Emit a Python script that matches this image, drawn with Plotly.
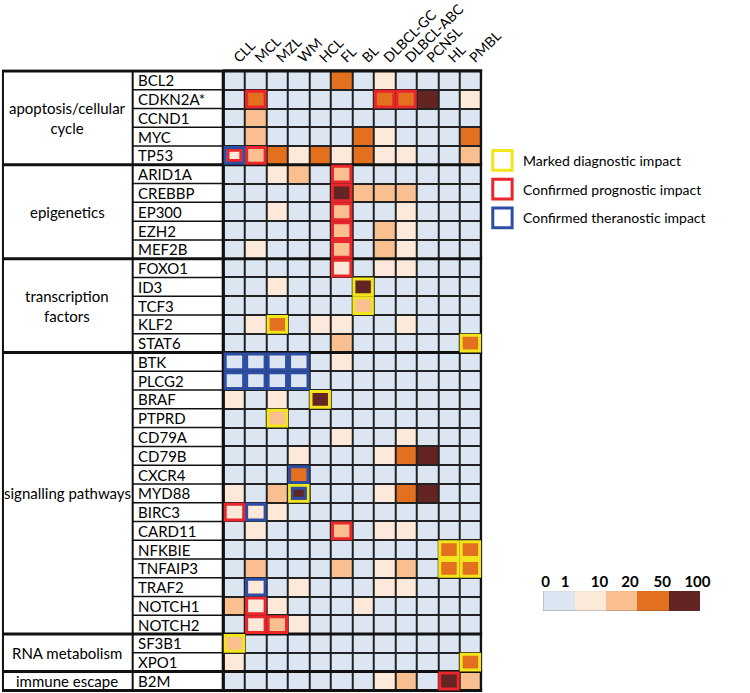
import plotly.graph_objects as go

diseases = ["CLL", "MCL", "MZL", "WM", "HCL", "FL", "BL", "DLBCL-GC",
            "DLBCL-ABC", "PCNSL", "HL", "PMBL"]
genes = ["BCL2", "CDKN2A*", "CCND1", "MYC", "TP53",
         "ARID1A", "CREBBP", "EP300", "EZH2", "MEF2B",
         "FOXO1", "ID3", "TCF3", "KLF2", "STAT6",
         "BTK", "PLCG2", "BRAF", "PTPRD", "CD79A", "CD79B", "CXCR4", "MYD88",
         "BIRC3", "CARD11", "NFKBIE", "TNFAIP3", "TRAF2", "NOTCH1", "NOTCH2",
         "SF3B1", "XPO1",
         "B2M"]
groups = ["apoptosis/cellular<br>cycle", "epigenetics", "transcription<br>factors",
          "signalling pathways", "RNA metabolism", "immune escape"]
group_sizes = [5, 5, 5, 15, 2, 1]

# frequency class per gene x disease: 0 (<1%), 1 (1-10), 2 (10-20), 3 (20-50), 4 (50-100)
levels = [
    [0, 0, 0, 0, 0, 3, 0, 1, 0, 0, 0, 0],  # BCL2
    [0, 3, 0, 0, 0, 0, 0, 3, 3, 4, 0, 1],  # CDKN2A*
    [0, 2, 0, 0, 0, 0, 0, 0, 0, 0, 0, 0],  # CCND1
    [0, 2, 0, 0, 0, 0, 3, 1, 0, 0, 0, 3],  # MYC
    [1, 2, 3, 1, 3, 1, 3, 1, 1, 0, 0, 2],  # TP53
    [0, 0, 1, 2, 0, 2, 0, 0, 0, 0, 0, 0],  # ARID1A
    [0, 0, 0, 0, 0, 4, 2, 2, 2, 0, 0, 0],  # CREBBP
    [0, 0, 1, 0, 0, 2, 0, 0, 1, 0, 0, 0],  # EP300
    [0, 0, 0, 0, 0, 2, 0, 2, 1, 0, 0, 0],  # EZH2
    [0, 1, 0, 0, 0, 2, 0, 2, 1, 0, 0, 0],  # MEF2B
    [0, 0, 0, 0, 0, 1, 0, 1, 1, 0, 0, 0],  # FOXO1
    [0, 0, 1, 0, 0, 0, 4, 0, 0, 0, 0, 0],  # ID3
    [0, 0, 0, 0, 0, 0, 2, 0, 0, 0, 0, 0],  # TCF3
    [0, 1, 3, 0, 1, 1, 0, 0, 1, 0, 0, 0],  # KLF2
    [0, 0, 0, 0, 0, 2, 0, 0, 0, 0, 0, 3],  # STAT6
    [0, 0, 0, 0, 0, 1, 0, 0, 0, 0, 0, 0],  # BTK
    [0, 0, 0, 0, 0, 0, 0, 0, 0, 0, 0, 0],  # PLCG2
    [1, 0, 1, 0, 4, 0, 0, 0, 0, 0, 0, 0],  # BRAF
    [0, 0, 2, 0, 0, 0, 0, 0, 0, 0, 0, 0],  # PTPRD
    [0, 0, 0, 0, 0, 1, 0, 0, 1, 0, 0, 0],  # CD79A
    [0, 0, 0, 1, 0, 0, 0, 1, 3, 4, 0, 0],  # CD79B
    [0, 0, 0, 3, 0, 0, 0, 0, 0, 0, 0, 0],  # CXCR4
    [1, 0, 2, 4, 0, 0, 0, 1, 3, 4, 0, 0],  # MYD88
    [1, 1, 1, 0, 0, 0, 0, 0, 0, 0, 0, 0],  # BIRC3
    [0, 1, 0, 0, 0, 2, 0, 1, 1, 0, 0, 0],  # CARD11
    [0, 0, 0, 0, 0, 0, 0, 0, 0, 0, 3, 3],  # NFKBIE
    [0, 2, 0, 0, 0, 2, 0, 1, 2, 0, 3, 3],  # TNFAIP3
    [0, 1, 0, 1, 0, 0, 0, 1, 1, 0, 0, 0],  # TRAF2
    [2, 1, 1, 0, 0, 0, 1, 0, 0, 0, 0, 0],  # NOTCH1
    [0, 1, 2, 1, 0, 0, 0, 0, 0, 0, 0, 0],  # NOTCH2
    [2, 0, 0, 0, 0, 0, 0, 0, 0, 0, 0, 0],  # SF3B1
    [1, 0, 0, 0, 0, 0, 0, 0, 0, 0, 0, 3],  # XPO1
    [0, 0, 0, 0, 0, 0, 0, 1, 2, 0, 4, 2],  # B2M
]

diagnostic = [("ID3", "BL"), ("TCF3", "BL"), ("KLF2", "MZL"), ("STAT6", "PMBL"),
              ("BRAF", "HCL"), ("PTPRD", "MZL"), ("MYD88", "WM"),
              ("NFKBIE", "HL"), ("NFKBIE", "PMBL"), ("TNFAIP3", "HL"),
              ("TNFAIP3", "PMBL"), ("SF3B1", "CLL"), ("XPO1", "PMBL")]
prognostic = [("CDKN2A*", "MCL"), ("CDKN2A*", "DLBCL-GC"), ("CDKN2A*", "DLBCL-ABC"),
              ("TP53", "CLL"), ("TP53", "MCL"), ("ARID1A", "FL"), ("CREBBP", "FL"),
              ("EP300", "FL"), ("EZH2", "FL"), ("MEF2B", "FL"), ("FOXO1", "FL"),
              ("BIRC3", "CLL"), ("CARD11", "FL"), ("NOTCH1", "MCL"),
              ("NOTCH2", "MCL"), ("NOTCH2", "MZL"), ("B2M", "HL")]
theranostic = [("TP53", "CLL"), ("BTK", "CLL"), ("BTK", "MCL"), ("BTK", "MZL"),
               ("BTK", "WM"), ("PLCG2", "CLL"), ("PLCG2", "MCL"), ("PLCG2", "MZL"),
               ("PLCG2", "WM"), ("CXCR4", "WM"), ("MYD88", "WM"), ("BIRC3", "MCL"),
               ("TRAF2", "MCL")]
# cells where two frames are nested: (gene, disease, kind of the inner frame)
inner_frames = [("TP53", "CLL", "prognostic"), ("MYD88", "WM", "theranostic")]

legend_labels = ["Marked diagnostic impact", "Confirmed prognostic impact",
                 "Confirmed theranostic impact"]
scale_labels = ["0", "1", "10", "20", "50", "100"]
scale_label_pos = [-0.42, 0.2, 1.3, 2.27, 3.3, 4.42]

level_colors = ["#dce6f2", "#fde9d9", "#fabf8f", "#e2701f", "#632523"]
frame_colors = {"diagnostic": "#f2e51c", "prognostic": "#e8262b", "theranostic": "#2e4ea3"}

W, H = 750, 693
FONT = "Lato"


def px(x):
    return x / W


def py(y):
    return 1 - y / H


# pixel layout
GRID_L, GRID_R, GRID_T, GRID_B = 228, 496, 63, 692
CAT_R = 135

cs = []
n = len(level_colors)
for i, c in enumerate(level_colors):
    lo = max(0, (i - 0.5) / (n - 1))
    hi = min(1, (i + 0.5) / (n - 1))
    cs += [[lo, c], [hi, c]]

fig = go.Figure()
fig.add_trace(go.Heatmap(z=levels, x=diseases, y=genes, colorscale=cs, zmin=0, zmax=4,
                         xgap=2, ygap=2, showscale=False, hoverinfo="x+y"))
fig.add_trace(go.Heatmap(z=[list(range(n))], x=list(range(n)), y=[0], colorscale=cs,
                         zmin=0, zmax=4, showscale=False, hoverinfo="skip",
                         xaxis="x2", yaxis="y2"))

shapes = []
nrows = len(genes)
ncols = len(diseases)
black = dict(color="#111111", width=1.5)

# grid frame
shapes.append(dict(type="rect", xref="x", yref="y", x0=-0.5, x1=ncols - 0.5,
                   y0=-0.5, y1=nrows - 0.5, line=dict(color="#111111", width=2)))
# left table: vertical lines
for xv in [1, CAT_R, GRID_L]:
    shapes.append(dict(type="line", xref="paper", yref="y", x0=px(xv), x1=px(xv),
                       y0=-0.5, y1=nrows - 0.5, line=dict(color="#111111", width=2)))
# gene row lines
for k in range(1, nrows):
    shapes.append(dict(type="line", xref="paper", yref="y", x0=px(CAT_R), x1=px(GRID_L),
                       y0=k - 0.5, y1=k - 0.5, line=black))
# group separators, top and bottom borders
bounds = [0]
for s in group_sizes:
    bounds.append(bounds[-1] + s)
for b in bounds:
    shapes.append(dict(type="line", xref="paper", yref="y", x0=0, x1=px(GRID_R),
                       y0=b - 0.5, y1=b - 0.5, line=dict(color="#111111", width=3)))

# impact frames
fx_out, fy_out = 0.07, 0.08
fx_in, fy_in = 0.2, 0.23
for kind, cells in [("diagnostic", diagnostic), ("prognostic", prognostic),
                    ("theranostic", theranostic)]:
    for g, d in cells:
        inner = any(g == a and d == b and kind == c for a, b, c in inner_frames)
        dx, dy = (fx_in, fy_in) if inner else (fx_out, fy_out)
        xi, yi = diseases.index(d), genes.index(g)
        shapes.append(dict(type="rect", xref="x", yref="y",
                           x0=xi - 0.5 + dx, x1=xi + 0.5 - dx,
                           y0=yi - 0.5 + dy, y1=yi + 0.5 - dy,
                           line=dict(color=frame_colors[kind], width=3)))

annotations = []
# gene labels
for i, g in enumerate(genes):
    annotations.append(dict(x=px(CAT_R + 3), y=i, xref="paper", yref="y", text=g,
                            showarrow=False, xanchor="left", yanchor="middle",
                            font=dict(family=FONT, size=15, color="black")))
# group labels
for gname, b0, b1 in zip(groups, bounds[:-1], bounds[1:]):
    annotations.append(dict(x=px(CAT_R / 2), y=(b0 + b1 - 1) / 2, xref="paper", yref="y",
                            text=gname, showarrow=False, xanchor="center", yanchor="middle",
                            font=dict(family=FONT, size=15, color="black")))

# legend of frames
leg_x, leg_y0, leg_dy, box = 507, 145, 29, 20
for j, (lab, kind) in enumerate(zip(legend_labels, ["diagnostic", "prognostic", "theranostic"])):
    y0 = leg_y0 + j * leg_dy
    shapes.append(dict(type="rect", xref="paper", yref="paper",
                       x0=px(leg_x), x1=px(leg_x + box), y0=py(y0 + box), y1=py(y0),
                       line=dict(color=frame_colors[kind], width=3), fillcolor="white"))
    annotations.append(dict(x=px(leg_x + box + 9), y=py(y0 + box / 2), xref="paper",
                            yref="paper", text=lab, showarrow=False, xanchor="left",
                            yanchor="middle", font=dict(family=FONT, size=14, color="black")))

fig.update_layout(
    width=W, height=H, margin=dict(l=0, r=0, t=0, b=0),
    paper_bgcolor="white", plot_bgcolor="#222222",
    shapes=shapes, annotations=annotations, showlegend=False,
    xaxis=dict(domain=[px(GRID_L), px(GRID_R)], side="top", tickangle=-45,
               showgrid=False, zeroline=False, ticks="",
               tickfont=dict(family=FONT, size=14, color="black")),
    yaxis=dict(domain=[py(GRID_B), py(GRID_T)], autorange="reversed",
               showgrid=False, zeroline=False, showticklabels=False),
    xaxis2=dict(domain=[px(559), px(721)], anchor="y2", side="top", range=[-0.5, 4.5],
                tickvals=scale_label_pos, ticktext=[f"<b>{t}</b>" for t in scale_labels],
                showgrid=False, zeroline=False, ticks="",
                tickfont=dict(family=FONT, size=15, color="black")),
    yaxis2=dict(domain=[py(610), py(590)], anchor="x2", showticklabels=False,
                showgrid=False, zeroline=False),
)

fig.write_html("out.html", config={"displayModeBar": False},
               post_script="document.body.style.margin='0px';")
